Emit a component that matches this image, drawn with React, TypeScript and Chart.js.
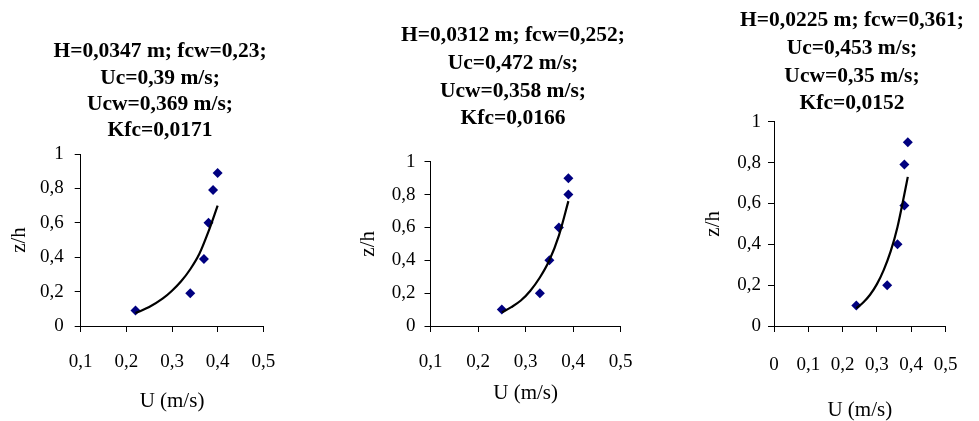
import React, { useEffect, useRef } from "react";
import { Chart, registerables } from "chart.js";

Chart.register(...registerables);

// ---------- data ----------
const TITLE_1 = ["H=0,0347 m; fcw=0,23;", "Uc=0,39 m/s;", "Ucw=0,369 m/s;", "Kfc=0,0171"];
const TITLE_2 = ["H=0,0312 m; fcw=0,252;", "Uc=0,472 m/s;", "Ucw=0,358 m/s;", "Kfc=0,0166"];
const TITLE_3 = ["H=0,0225 m; fcw=0,361;", "Uc=0,453 m/s;", "Ucw=0,35 m/s;", "Kfc=0,0152"];

const X_TITLE = "U (m/s)";
const Y_TITLE = "z/h";

const X_TICKS_12 = [0.1, 0.2, 0.3, 0.4, 0.5];
const X_LABELS_12 = ["0,1", "0,2", "0,3", "0,4", "0,5"];
const X_TICKS_3 = [0, 0.1, 0.2, 0.3, 0.4, 0.5];
const X_LABELS_3 = ["0", "0,1", "0,2", "0,3", "0,4", "0,5"];
const Y_TICKS = [0, 0.2, 0.4, 0.6, 0.8, 1];
const Y_LABELS = ["0", "0,2", "0,4", "0,6", "0,8", "1"];

const P1_U = [0.22, 0.34, 0.37, 0.38, 0.39, 0.4];
const P1_Z = [0.09, 0.19, 0.39, 0.6, 0.79, 0.89];
const P1_FIT_U = [0.22, 0.25, 0.28, 0.3, 0.32, 0.34, 0.36, 0.38, 0.4];
const P1_FIT_Z = [0.075, 0.11, 0.16, 0.205, 0.26, 0.33, 0.42, 0.55, 0.7];

const P2_U = [0.25, 0.33, 0.35, 0.37, 0.39, 0.39];
const P2_Z = [0.1, 0.2, 0.4, 0.6, 0.8, 0.9];
const P2_FIT_U = [0.25, 0.27, 0.29, 0.31, 0.33, 0.35, 0.37, 0.39];
const P2_FIT_Z = [0.083, 0.115, 0.155, 0.215, 0.295, 0.4, 0.55, 0.76];

const P3_U = [0.24, 0.33, 0.36, 0.38, 0.38, 0.39];
const P3_Z = [0.1, 0.2, 0.4, 0.59, 0.79, 0.9];
const P3_FIT_U = [0.24, 0.26, 0.28, 0.3, 0.32, 0.34, 0.36, 0.38, 0.39];
const P3_FIT_Z = [0.087, 0.115, 0.153, 0.205, 0.275, 0.365, 0.485, 0.645, 0.73];

const FONT = "'Liberation Serif', 'Times New Roman', serif";
const MARKER = "#000080";
const TICK_SIZE = 19;
const AXIS_TITLE_SIZE = 21;
const TITLE_SIZE = 21.5;

type PanelCfg = {
  left: number;
  width: number;
  padTop: number;
  padRight: number;
  title: string[];
  titleX: number;
  titleY0: number;
  titleLH: number;
  yWidth: number;
  yTickPad: number;
  yTitlePad: number;
  xHeight: number;
  xTickPad: number;
  xTitlePad: number;
  xMin: number;
  xTicks: number[];
  xLabels: string[];
  u: number[];
  z: number[];
  fitU: number[];
  fitZ: number[];
};

const PANELS: PanelCfg[] = [
  {
    left: 0, width: 320, padTop: 154, padRight: 56.7,
    title: TITLE_1, titleX: 160, titleY0: 51.7, titleLH: 26.3,
    yWidth: 80.7, yTickPad: 11, yTitlePad: 6.6, xHeight: 95, xTickPad: 18.6, xTitlePad: 6.7,
    xMin: 0.1, xTicks: X_TICKS_12, xLabels: X_LABELS_12,
    u: P1_U, z: P1_Z, fitU: P1_FIT_U, fitZ: P1_FIT_Z,
  },
  {
    left: 340, width: 346, padTop: 161.7, padRight: 65.3,
    title: TITLE_2, titleX: 173, titleY0: 35.5, titleLH: 27.8,
    yWidth: 90.5, yTickPad: 9, yTitlePad: 15.7, xHeight: 95, xTickPad: 18.6, xTitlePad: 15.4,
    xMin: 0.1, xTicks: X_TICKS_12, xLabels: X_LABELS_12,
    u: P2_U, z: P2_Z, fitU: P2_FIT_U, fitZ: P2_FIT_Z,
  },
  {
    left: 695, width: 284, padTop: 121.7, padRight: 19,
    title: TITLE_3, titleX: 157, titleY0: 20.8, titleLH: 27.6,
    yWidth: 79, yTickPad: 7, yTitlePad: 5.7, xHeight: 95, xTickPad: 21.6, xTitlePad: -1.6,
    xMin: 0, xTicks: X_TICKS_3, xLabels: X_LABELS_3,
    u: P3_U, z: P3_Z, fitU: P3_FIT_U, fitZ: P3_FIT_Z,
  },
];

function Panel({ cfg }: { cfg: PanelCfg }) {
  const ref = useRef<HTMLCanvasElement | null>(null);
  useEffect(() => {
    if (!ref.current) return;
    const titlePlugin = {
      id: "panelTitle",
      afterDraw(chart: any) {
        const ctx = chart.ctx as CanvasRenderingContext2D;
        ctx.save();
        ctx.font = `bold ${TITLE_SIZE}px ${FONT}`;
        ctx.fillStyle = "#000";
        ctx.textAlign = "center";
        ctx.textBaseline = "middle";
        cfg.title.forEach((line, i) => {
          ctx.fillText(line, cfg.titleX, cfg.titleY0 + i * cfg.titleLH);
        });
        ctx.restore();
      },
    };
    const chart = new Chart(ref.current, {
      type: "scatter",
      data: {
        datasets: [
          {
            label: "fit",
            data: cfg.fitU.map((u, i) => ({ x: u, y: cfg.fitZ[i] })),
            showLine: true,
            borderColor: "#000",
            borderWidth: 2.2,
            pointRadius: 0,
            cubicInterpolationMode: "monotone",
            order: 0,
          } as any,
          {
            label: "data",
            data: cfg.u.map((u, i) => ({ x: u, y: cfg.z[i] })),
            showLine: false,
            pointStyle: "rectRot",
            pointRadius: 5,
            pointBackgroundColor: MARKER,
            pointBorderColor: MARKER,
            pointBorderWidth: 0,
            order: 1,
          } as any,
        ],
      },
      options: {
        animation: false,
        responsive: false,
        devicePixelRatio: 1,
        layout: { padding: { left: 0, top: cfg.padTop, bottom: 0, right: cfg.padRight } },
        plugins: {
          legend: { display: false },
          tooltip: { enabled: false },
          title: { display: false },
        },
        scales: {
          x: {
            type: "linear",
            min: cfg.xMin,
            max: 0.5,
            afterBuildTicks: (s: any) => {
              s.ticks = cfg.xTicks.map((v) => ({ value: v }));
            },
            afterFit: (s: any) => {
              s.height = cfg.xHeight;
            },
            ticks: {
              color: "#000",
              font: { family: FONT, size: TICK_SIZE },
              padding: cfg.xTickPad,
              maxRotation: 0,
              autoSkip: false,
              callback: (_v: any, i: number) => cfg.xLabels[i],
            },
            grid: { drawOnChartArea: false, drawTicks: true, tickLength: 6, color: "#000", tickColor: "#000" },
            border: { display: true, color: "#000", width: 1 },
            title: {
              display: true,
              text: X_TITLE,
              color: "#000",
              font: { family: FONT, size: AXIS_TITLE_SIZE },
              padding: { top: 0, bottom: cfg.xTitlePad },
            },
          },
          y: {
            type: "linear",
            min: 0,
            max: 1,
            afterBuildTicks: (s: any) => {
              s.ticks = Y_TICKS.map((v) => ({ value: v }));
            },
            afterFit: (s: any) => {
              s.width = cfg.yWidth;
            },
            ticks: {
              color: "#000",
              font: { family: FONT, size: TICK_SIZE },
              padding: cfg.yTickPad,
              autoSkip: false,
              callback: (_v: any, i: number) => Y_LABELS[i],
            },
            grid: { drawOnChartArea: false, drawTicks: true, tickLength: 6, color: "#000", tickColor: "#000" },
            border: { display: true, color: "#000", width: 1 },
            title: {
              display: true,
              text: Y_TITLE,
              color: "#000",
              font: { family: FONT, size: AXIS_TITLE_SIZE },
              padding: { top: cfg.yTitlePad, bottom: 0 },
            },
          },
        },
      } as any,
      plugins: [titlePlugin],
    });
    return () => chart.destroy();
  }, [cfg]);
  return (
    <canvas
      ref={ref}
      width={cfg.width}
      height={421}
      style={{ position: "absolute", left: cfg.left, top: 0, width: cfg.width, height: 421 }}
    />
  );
}

export default function App() {
  return (
    <div
      style={{
        position: "fixed",
        left: 0,
        top: 0,
        width: 979,
        height: 421,
        overflow: "hidden",
        background: "#fff",
      }}
    >
      {PANELS.map((p, i) => (
        <Panel key={i} cfg={p} />
      ))}
    </div>
  );
}
